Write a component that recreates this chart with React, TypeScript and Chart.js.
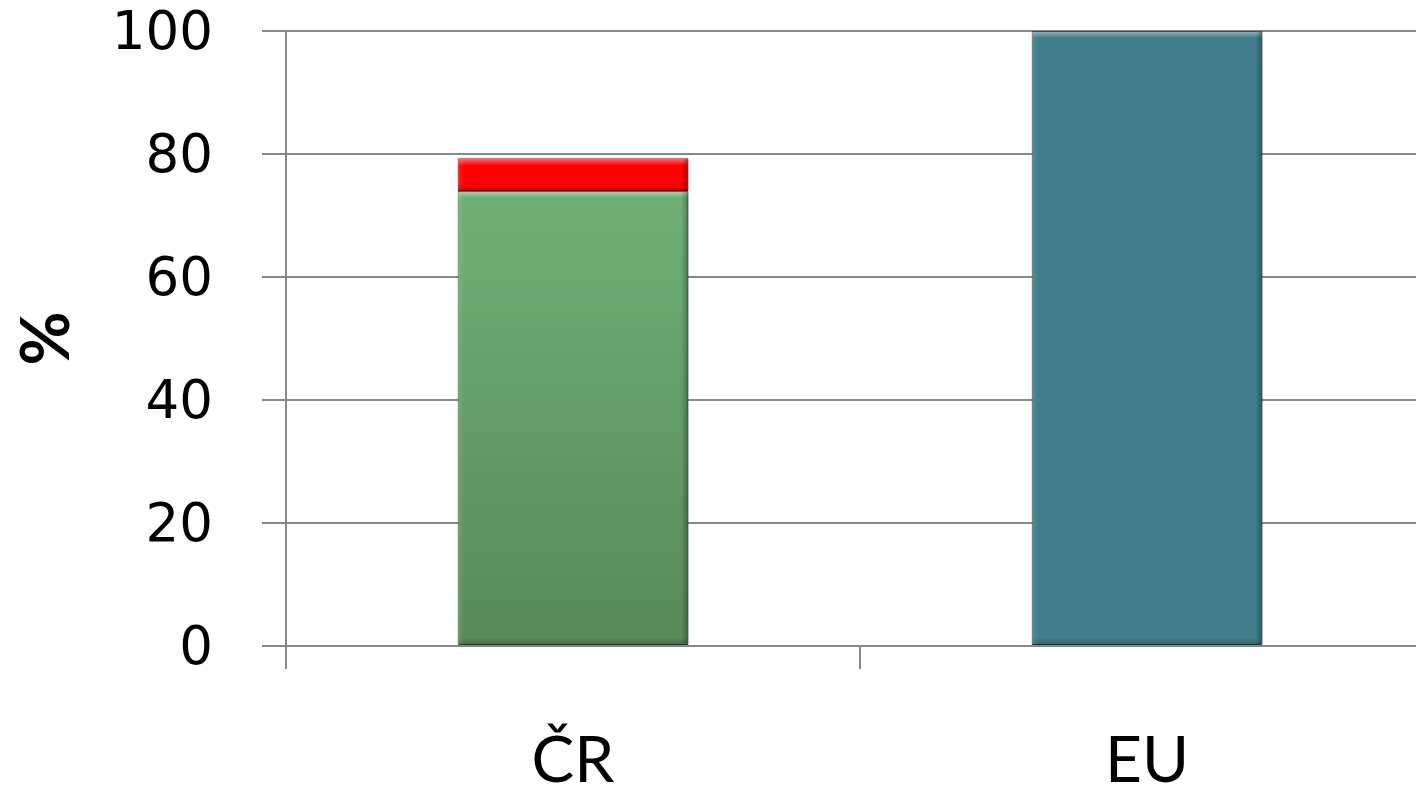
import React, { useEffect, useRef } from "react";
import { Chart, registerables } from "chart.js";

Chart.register(...registerables);

const categories = ["ČR", "EU"];
const greenValues = [74, null];
const redValues = [5.3, null];
const tealValues = [null, 100];
const yTicks = [0, 20, 40, 60, 80, 100];

const W = 1450;
const H = 789;

export default function App() {
  const ref = useRef<HTMLCanvasElement | null>(null);

  useEffect(() => {
    const canvas = ref.current;
    if (!canvas) return;

    const shadowPlugin = {
      id: "barShadow",
      beforeDatasetsDraw(chart: any) {
        const ctx = chart.ctx;
        ctx.save();
        ctx.shadowColor = "rgba(0,0,0,0.35)";
        ctx.shadowBlur = 6;
        ctx.shadowOffsetX = 3;
        ctx.shadowOffsetY = 4;
      },
      afterDatasetsDraw(chart: any) {
        chart.ctx.restore();
        const ctx = chart.ctx;
        chart.data.datasets.forEach((_ds: any, i: number) => {
          const meta = chart.getDatasetMeta(i);
          meta.data.forEach((el: any, j: number) => {
            const v = chart.data.datasets[i].data[j];
            if (v === null || v === undefined) return;
            const { x, y, base, width } = el.getProps(["x", "y", "base", "width"], true);
            const l = x - width / 2;
            const r = x + width / 2;
            const t = Math.min(y, base);
            const b = Math.max(y, base);
            const bw = 7;
            ctx.save();
            let g = ctx.createLinearGradient(0, t, 0, t + bw);
            g.addColorStop(0, "rgba(255,255,255,0.45)");
            g.addColorStop(1, "rgba(255,255,255,0)");
            ctx.fillStyle = g;
            ctx.fillRect(l + 1, t + 1, width - 2, bw);
            g = ctx.createLinearGradient(l, 0, l + bw, 0);
            g.addColorStop(0, "rgba(255,255,255,0.12)");
            g.addColorStop(1, "rgba(255,255,255,0)");
            ctx.fillStyle = g;
            ctx.fillRect(l + 1, t + 1, bw, b - t - 2);
            g = ctx.createLinearGradient(r - bw, 0, r, 0);
            g.addColorStop(0, "rgba(0,0,0,0)");
            g.addColorStop(1, "rgba(0,0,0,0.3)");
            ctx.fillStyle = g;
            ctx.fillRect(r - bw, t + 1, bw, b - t - 2);
            g = ctx.createLinearGradient(0, b - bw, 0, b);
            g.addColorStop(0, "rgba(0,0,0,0)");
            g.addColorStop(1, "rgba(0,0,0,0.22)");
            ctx.fillStyle = g;
            ctx.fillRect(l + 1, b - bw, width - 2, bw);
            ctx.restore();
          });
        });
      },
    };

    const grad = (ctx: any, top: string, bottom: string) => {
      const chart = ctx.chart;
      const area = chart.chartArea;
      if (!area) return top;
      const g = chart.ctx.createLinearGradient(0, area.top, 0, area.bottom);
      g.addColorStop(0, top);
      g.addColorStop(1, bottom);
      return g;
    };

    const common = {
      barPercentage: 0.402,
      categoryPercentage: 1,
      borderSkipped: false,
      clip: false,
    };

    const chart = new Chart(canvas, {
      type: "bar",
      data: {
        labels: categories,
        datasets: [
          {
            label: "green",
            data: greenValues as any,
            backgroundColor: (c: any) => grad(c, "#74be7e", "#58895a"),
            borderColor: "#3f6a42",
            borderWidth: 1,
            ...common,
          } as any,
          {
            label: "red",
            data: redValues as any,
            backgroundColor: "#ff0000",
            borderColor: "#b00000",
            borderWidth: 1,
            ...common,
          } as any,
          {
            label: "teal",
            data: tealValues as any,
            backgroundColor: "#417d8a",
            borderColor: "#2c5c66",
            borderWidth: 1,
            ...common,
          } as any,
        ],
      },
      options: {
        responsive: false,
        animation: false,
        devicePixelRatio: 1,
        layout: { padding: { left: 0, right: 16, top: 31, bottom: 0 } },
        plugins: {
          legend: { display: false },
          tooltip: { enabled: false },
        },
        scales: {
          x: {
            stacked: true,
            offset: true,
            grid: {
              display: true,
              drawOnChartArea: false,
              drawTicks: true,
              tickLength: 23,
              color: "#888888",
              lineWidth: 2,
              offset: true,
            },
            border: { display: false },
            ticks: {
              color: "#000000",
              padding: 54,
              font: { family: "Lato, 'Noto Sans', sans-serif", size: 64 },
            },
            afterFit(scale: any) {
              scale.height = H - 646;
            },
          } as any,
          y: {
            stacked: true,
            min: 0,
            max: 100,
            afterBuildTicks(scale: any) {
              scale.ticks = yTicks.map((v) => ({ value: v }));
            },
            grid: {
              color: "#888888",
              lineWidth: 2,
              drawTicks: true,
              tickLength: 24,
            },
            border: { display: true, color: "#888888", width: 2 },
            ticks: {
              color: "#000000",
              padding: 49,
              labelOffset: 4,
              font: { family: "'DejaVu Sans', sans-serif", size: 53 },
            },
            title: {
              display: true,
              text: "%",
              color: "#000000",
              font: { family: "Lato, 'Noto Sans', sans-serif", size: 66, weight: "bold" },
              padding: { top: 8, bottom: 0 },
            },
            afterFit(scale: any) {
              scale.width = 286;
              scale.paddingTop = 0;
              scale.paddingBottom = 0;
            },
          } as any,
        },
      },
      plugins: [shadowPlugin],
    });

    return () => chart.destroy();
  }, []);

  return (
    <div
      style={{
        position: "fixed",
        left: 0,
        top: 0,
        width: 1416,
        height: 789,
        overflow: "hidden",
        background: "#ffffff",
      }}
    >
      <canvas
        ref={ref}
        width={W}
        height={H}
        style={{ position: "absolute", left: 0, top: 0, width: W, height: H }}
      />
    </div>
  );
}
